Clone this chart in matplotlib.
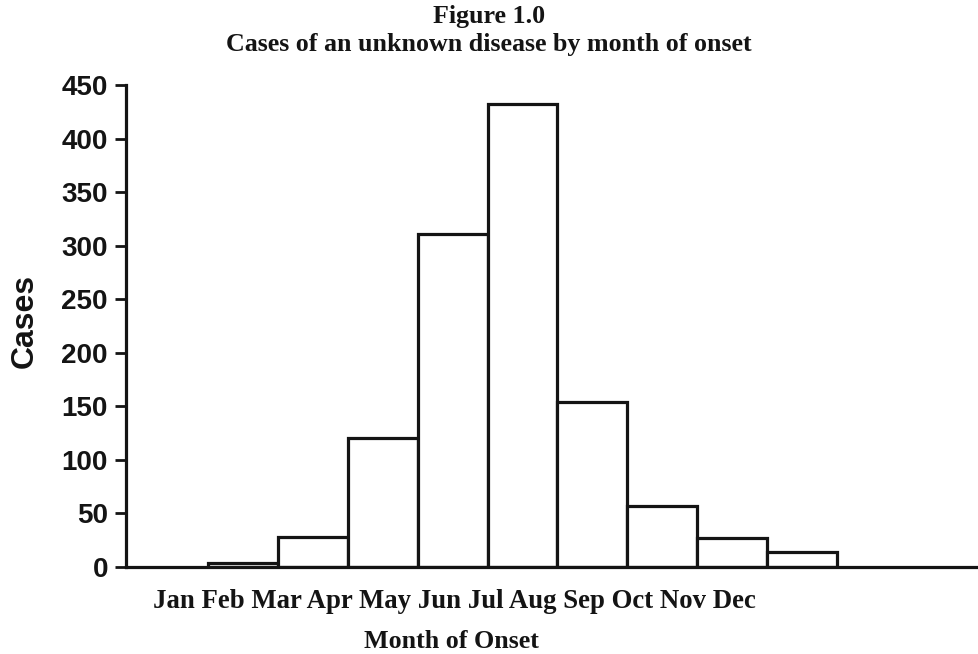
import numpy as np
import matplotlib
matplotlib.use("Agg")
import matplotlib.pyplot as plt

# months shown under the axis
months = ["Jan", "Feb", "Mar", "Apr", "May", "Jun",
          "Jul", "Aug", "Sep", "Oct", "Nov", "Dec"]
# one bar per month, starting with Feb
bar_start = 1
cases = [4, 28, 120, 311, 432, 154, 57, 27, 14]
y_ticks = [0, 50, 100, 150, 200, 250, 300, 350, 400, 450]

serif = "Liberation Serif"
sans = "Liberation Sans"
ink = "#141414"

fig = plt.figure(figsize=(9.79, 6.54), dpi=100)
ax = fig.add_axes([126 / 979, 87 / 654, 1 - 126 / 979, 482 / 654])

x = bar_start + np.arange(len(cases))
ax.bar(x, cases, width=1, align="edge", color="white",
       edgecolor=ink, linewidth=2.3)

ax.set_xlim(bar_start - 1.173, bar_start + 11.03)
ax.set_ylim(0, 450)
ax.set_yticks(y_ticks)
ax.set_yticklabels([str(v) for v in y_ticks], fontfamily=sans,
                   fontweight="bold", fontsize=20, color=ink)
ax.set_xticks([])
ax.tick_params(axis="y", length=8, width=2, pad=5, color=ink)

for s in ["top", "right"]:
    ax.spines[s].set_visible(False)
for s in ["left", "bottom"]:
    ax.spines[s].set_linewidth(2.3)
    ax.spines[s].set_color(ink)

ax.set_ylabel("Cases", fontfamily=sans, fontweight="bold", fontsize=23,
              color=ink, va="center")
ax.yaxis.set_label_coords(-0.119, 0.51)

fig.text(0.4995, 1 - 17 / 654, "Figure 1.0", ha="center", va="center",
         fontfamily=serif, fontweight="bold", fontsize=18.7, color=ink)
fig.text(0.4995, 1 - 45 / 654, "Cases of an unknown disease by month of onset",
         ha="center", va="center", fontfamily=serif, fontweight="bold",
         fontsize=18.7, color=ink)

fig.text(454 / 979, 1 - 601 / 654, " ".join(months), ha="center", va="center",
         fontfamily=serif, fontweight="bold", fontsize=19.3, color=ink)
fig.text(451 / 979, 1 - 641 / 654, "Month of Onset", ha="center", va="center",
         fontfamily=serif, fontweight="bold", fontsize=18.7, color=ink)

fig.savefig("out.png", dpi=100, facecolor="white")
